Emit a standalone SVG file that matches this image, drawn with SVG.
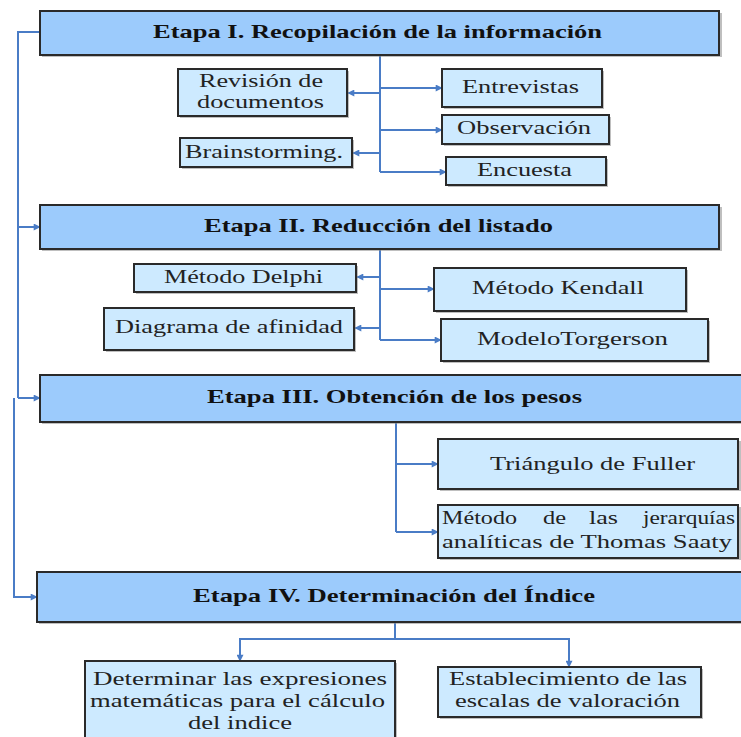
<svg xmlns="http://www.w3.org/2000/svg" width="741" height="737" viewBox="0 0 741 737">
  <defs>
    <style>
      .stage rect.box { fill: #9ccbfc; stroke: #2a2a2a; stroke-width: 2; }
      .item rect.box { fill: #cdeaff; stroke: #2a2a2a; stroke-width: 2; }
      rect.shadow { fill: #8a8a8a; opacity: 0.55; }
      .stage text { font-family: "Liberation Serif", "Times New Roman", serif; font-weight: bold; font-size: 19px; fill: #111; }
      .item text { font-family: "Liberation Serif", "Times New Roman", serif; font-size: 19px; fill: #222; }
      #connectors path { fill: none; stroke: #4a7cc6; stroke-width: 2; }
    </style>
    <marker id="arrow" viewBox="0 0 10 10" refX="9" refY="5" markerWidth="8" markerHeight="7" markerUnits="userSpaceOnUse" orient="auto">
      <path d="M0,0 L10,5 L0,10 z" fill="#4a7cc6"/>
    </marker>
  </defs>
  <rect width="741" height="737" fill="#ffffff"/>

  <!-- connectors -->
  <g id="connectors">
    <!-- left spine linking the stages -->
    <path d="M40,32 H18 V398"/>
    <path d="M18,227 H40" marker-end="url(#arrow)"/>
    <path d="M18,398 H40" marker-end="url(#arrow)"/>
    <path d="M14,398 V597 H37" marker-end="url(#arrow)"/>
    <!-- stage I -->
    <path d="M380,55 V172"/>
    <path d="M380,88 H442" marker-end="url(#arrow)"/>
    <path d="M380,130 H442" marker-end="url(#arrow)"/>
    <path d="M380,172 H446" marker-end="url(#arrow)"/>
    <path d="M380,93 H348" marker-end="url(#arrow)"/>
    <path d="M380,153 H353" marker-end="url(#arrow)"/>
    <!-- stage II -->
    <path d="M380,249 V340"/>
    <path d="M380,289 H434" marker-end="url(#arrow)"/>
    <path d="M380,340 H441" marker-end="url(#arrow)"/>
    <path d="M380,277 H357" marker-end="url(#arrow)"/>
    <path d="M380,328 H355" marker-end="url(#arrow)"/>
    <!-- stage III -->
    <path d="M396,422 V532"/>
    <path d="M396,464 H438" marker-end="url(#arrow)"/>
    <path d="M396,532 H438" marker-end="url(#arrow)"/>
    <!-- stage IV -->
    <path d="M395,622 V639"/>
    <path d="M395,639 H240 V661" marker-end="url(#arrow)"/>
    <path d="M395,639 H569 V667" marker-end="url(#arrow)"/>
  </g>

  <!-- stage I -->
  <g id="etapa1" class="stage">
    <rect class="shadow" x="42" y="13" width="680" height="44"/>
    <rect class="box" x="40" y="11" width="679" height="44"/>
    <text x="153" y="38" textLength="449" lengthAdjust="spacingAndGlyphs">Etapa I. Recopilación de la información</text>
  </g>
  <g id="revision" class="item">
    <rect class="shadow" x="180" y="71" width="169" height="47"/>
    <rect class="box" x="178" y="69" width="169" height="47"/>
    <text x="199" y="87" textLength="124" lengthAdjust="spacingAndGlyphs">Revisión de</text>
    <text x="197" y="108" textLength="127" lengthAdjust="spacingAndGlyphs">documentos</text>
  </g>
  <g id="brainstorming" class="item">
    <rect class="shadow" x="182" y="140" width="172" height="29"/>
    <rect class="box" x="180" y="138" width="172" height="29"/>
    <text x="185" y="158" textLength="158" lengthAdjust="spacingAndGlyphs">Brainstorming.</text>
  </g>
  <g id="entrevistas" class="item">
    <rect class="shadow" x="444" y="71" width="160" height="38"/>
    <rect class="box" x="442" y="69" width="160" height="38"/>
    <text x="462" y="93" textLength="117" lengthAdjust="spacingAndGlyphs">Entrevistas</text>
  </g>
  <g id="observacion" class="item">
    <rect class="shadow" x="444" y="117" width="167" height="29"/>
    <rect class="box" x="442" y="115" width="167" height="29"/>
    <text x="457" y="134" textLength="134" lengthAdjust="spacingAndGlyphs">Observación</text>
  </g>
  <g id="encuesta" class="item">
    <rect class="shadow" x="448" y="159" width="160" height="28"/>
    <rect class="box" x="446" y="157" width="160" height="28"/>
    <text x="477" y="176" textLength="95" lengthAdjust="spacingAndGlyphs">Encuesta</text>
  </g>

  <!-- stage II -->
  <g id="etapa2" class="stage">
    <rect class="shadow" x="42" y="207" width="680" height="44"/>
    <rect class="box" x="40" y="205" width="679" height="44"/>
    <text x="204" y="232" textLength="349" lengthAdjust="spacingAndGlyphs">Etapa II. Reducción del listado</text>
  </g>
  <g id="delphi" class="item">
    <rect class="shadow" x="136" y="266" width="222" height="28"/>
    <rect class="box" x="134" y="264" width="222" height="28"/>
    <text x="164" y="283" textLength="159" lengthAdjust="spacingAndGlyphs">Método Delphi</text>
  </g>
  <g id="afinidad" class="item">
    <rect class="shadow" x="106" y="310" width="250" height="42"/>
    <rect class="box" x="104" y="308" width="250" height="42"/>
    <text x="115" y="333" textLength="228" lengthAdjust="spacingAndGlyphs">Diagrama de afinidad</text>
  </g>
  <g id="kendall" class="item">
    <rect class="shadow" x="436" y="270" width="252" height="43"/>
    <rect class="box" x="434" y="268" width="252" height="43"/>
    <text x="472" y="294" textLength="172" lengthAdjust="spacingAndGlyphs">Método Kendall</text>
  </g>
  <g id="torgerson" class="item">
    <rect class="shadow" x="443" y="321" width="267" height="42"/>
    <rect class="box" x="441" y="319" width="267" height="42"/>
    <text x="477" y="345" textLength="191" lengthAdjust="spacingAndGlyphs">ModeloTorgerson</text>
  </g>

  <!-- stage III -->
  <g id="etapa3" class="stage">
    <rect class="shadow" x="42" y="377" width="720" height="47"/>
    <rect class="box" x="40" y="375" width="720" height="47"/>
    <text x="207" y="403" textLength="375" lengthAdjust="spacingAndGlyphs">Etapa III. Obtención de los pesos</text>
  </g>
  <g id="fuller" class="item">
    <rect class="shadow" x="440" y="441" width="301" height="50"/>
    <rect class="box" x="438" y="439" width="300" height="50"/>
    <text x="490" y="470" textLength="205" lengthAdjust="spacingAndGlyphs">Triángulo de Fuller</text>
  </g>
  <g id="saaty" class="item">
    <rect class="shadow" x="440" y="507" width="301" height="53"/>
    <rect class="box" x="438" y="505" width="300" height="53"/>
    <!-- justified first line: each word placed on its own -->
    <text x="442" y="524" textLength="75" lengthAdjust="spacingAndGlyphs">Método</text>
    <text x="543" y="524" textLength="23" lengthAdjust="spacingAndGlyphs">de</text>
    <text x="589" y="524" textLength="29" lengthAdjust="spacingAndGlyphs">las</text>
    <text x="643" y="524" textLength="92" lengthAdjust="spacingAndGlyphs">jerarquías</text>
    <text x="442" y="548" textLength="290" lengthAdjust="spacingAndGlyphs">analíticas de Thomas Saaty</text>
  </g>

  <!-- stage IV -->
  <g id="etapa4" class="stage">
    <rect class="shadow" x="39" y="574" width="720" height="50"/>
    <rect class="box" x="37" y="572" width="720" height="50"/>
    <text x="193" y="602" textLength="402" lengthAdjust="spacingAndGlyphs">Etapa IV. Determinación del Índice</text>
  </g>
  <g id="expresiones" class="item">
    <rect class="shadow" x="87" y="663" width="310" height="80"/>
    <rect class="box" x="85" y="661" width="310" height="80"/>
    <text x="93" y="685" textLength="294" lengthAdjust="spacingAndGlyphs">Determinar las expresiones</text>
    <text x="90" y="707" textLength="295" lengthAdjust="spacingAndGlyphs">matemáticas para el cálculo</text>
    <text x="188" y="729" textLength="104" lengthAdjust="spacingAndGlyphs">del indice</text>
  </g>
  <g id="escalas" class="item">
    <rect class="shadow" x="440" y="669" width="263" height="50"/>
    <rect class="box" x="438" y="667" width="263" height="50"/>
    <text x="449" y="685" textLength="238" lengthAdjust="spacingAndGlyphs">Establecimiento de las</text>
    <text x="455" y="707" textLength="225" lengthAdjust="spacingAndGlyphs">escalas de valoración</text>
  </g>
</svg>
